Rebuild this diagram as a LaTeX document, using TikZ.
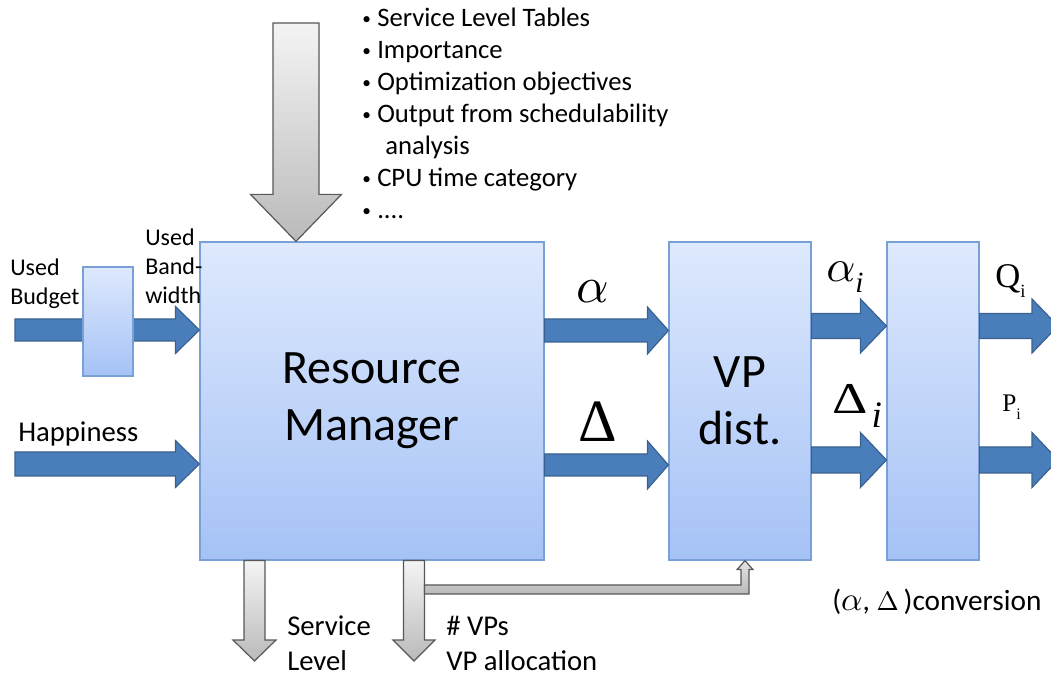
\documentclass[tikz,border=0pt]{standalone}
\usepackage{graphicx}
\usepackage{fontspec}
\setmainfont{Carlito}
\newfontfamily\tnr{Liberation Serif}
\usetikzlibrary{calc}

\definecolor{boxtop}{HTML}{DEE9FD}
\definecolor{boxbot}{HTML}{A5C2F6}
\definecolor{boxline}{HTML}{7AA0D8}
\definecolor{arrowblue}{HTML}{4A7EBB}
\definecolor{arrowline}{HTML}{3A6190}
\definecolor{greytop}{HTML}{F4F4F4}
\definecolor{greybot}{HTML}{BABABA}
\definecolor{greyline}{HTML}{575757}

\tikzset{
  bluebox/.style={draw=boxline, line width=0.9pt, top color=boxtop, bottom color=boxbot, inner sep=0pt},
  bluearrow/.style={fill=arrowblue, draw=arrowline, line width=0.9pt, line join=miter},
  greyarrow/.style={top color=greytop, bottom color=greybot, draw=greyline, line width=0.9pt, line join=miter},
  connarrow/.style={top color=greytop!70!greybot, bottom color=greybot, draw=greyline, line width=0.9pt, line join=miter},
  lbl/.style={inner sep=0pt, anchor=base west},
}

% multi-line label whose baseline is the first line
\newcommand\lines[2]{\begin{tabular}[t]{@{}#1@{}}#2\end{tabular}}
\newcommand\bul{\makebox[11.25pt][l]{\raisebox{1.5pt}{\fontsize{13}{13}\selectfont •}}}
% math Greek letters scaled from a 10pt base
\newcommand\galpha[1]{\scalebox{#1}{\fontsize{10}{10}\selectfont$\alpha$}}
\newcommand\gDelta[1]{\scalebox{#1}{\fontsize{10}{10}\selectfont$\Delta$}}

% horizontal block arrow: start, end, y centre, half shaft, half head, head length
\newcommand\hblock[6]{%
  \pgfmathsetmacro\hbA{#3-#4}\pgfmathsetmacro\hbB{#3+#4}%
  \pgfmathsetmacro\hbC{#3-#5}\pgfmathsetmacro\hbD{#3+#5}%
  \path[bluearrow] (#1 |- 0,\hbA) -- ($(#2 |- 0,\hbA)+(-#6,0)$) -- ($(#2 |- 0,\hbC)+(-#6,0)$)
    -- (#2 |- 0,#3) -- ($(#2 |- 0,\hbD)+(-#6,0)$) -- ($(#2 |- 0,\hbB)+(-#6,0)$)
    -- (#1 |- 0,\hbB) -- cycle;}

% downward block arrow: start, end, x centre, half shaft, half head, head length
\newcommand\vblock[6]{%
  \pgfmathsetmacro\vbA{#3-#4}\pgfmathsetmacro\vbB{#3+#4}%
  \pgfmathsetmacro\vbC{#3-#5}\pgfmathsetmacro\vbD{#3+#5}%
  \path[greyarrow] (#1 -| \vbA,0) -- ($(#2 -| \vbA,0)+(0,-#6)$) -- ($(#2 -| \vbC,0)+(0,-#6)$)
    -- (#2 -| #3,0) -- ($(#2 -| \vbD,0)+(0,-#6)$) -- ($(#2 -| \vbB,0)+(0,-#6)$)
    -- (#1 -| \vbB,0) -- cycle;}

\begin{document}
\begin{tikzpicture}[x=0.75pt, y=-0.75pt]
\useasboundingbox (0,0) rectangle (1051,677);
\clip (0,0) rectangle (1051,677);

% main blocks
\node[bluebox, minimum width=258pt, minimum height=238.5pt, align=center,
      font=\fontsize{36}{42.75}\selectfont] (rm) at (372,401) {Resource\\Manager};
\node[bluebox, minimum width=106.5pt, minimum height=238.5pt, align=center,
      font=\fontsize{36}{42.75}\selectfont] (vp) at (740,401) {VP\\dist.};
\node[bluebox, minimum width=69pt, minimum height=238.5pt] (cv) at (933,401) {};

% free ends of the connectors
\coordinate (inBud) at (15,330);
\coordinate (inHap) at (15,464);
\coordinate (inTop) at (296,23);
\coordinate (outQ) at (1058,326);
\coordinate (outP) at (1058,460);
\coordinate (outSL) at (254.5,661);
\coordinate (outVP) at (414,661);
\coordinate (br) at (424.5,589.5);
\coordinate (vpin) at ($(vp.south)+(5,0)$);

% inputs on the left
\hblock{inBud}{rm.west}{330}{11}{23.5}{24}
\hblock{inHap}{rm.west}{464}{12}{23.5}{24}
\node[bluebox, minimum width=37.5pt, minimum height=81.75pt] (ub) at (108,321.5) {};

% flows between the blocks
\hblock{rm.east}{vp.west}{330.5}{11.5}{23.5}{21}
\hblock{rm.east}{vp.west}{465}{11}{24}{21}
\hblock{vp.east}{cv.west}{326}{12.5}{27}{26}
\hblock{vp.east}{cv.west}{460}{13}{27.5}{26}
\hblock{cv.east}{outQ}{326}{12.5}{27}{26}
\hblock{cv.east}{outP}{460}{13}{27.5}{26}

% grey arrows
\vblock{inTop}{rm.north}{296}{23}{45.5}{47}
\vblock{rm.south}{outSL}{254.5}{10.5}{21.5}{21}
\vblock{rm.south}{outVP}{414}{10.5}{21}{21}
\path[connarrow] ($(br)+(0,-4.5)$) -| ($(vpin)+(-4,9)$) -- ($(vpin)+(-8,9)$) -- (vpin)
  -- ($(vpin)+(8,9)$) -- ($(vpin)+(4,9)$) |- ($(br)+(0,4.5)$) -- cycle;

% labels
\node[lbl, font=\fontsize{18}{21.4}\selectfont] (tBud) at (10,276) {\lines{l}{Used\\Budget}};
\node[lbl, font=\fontsize{18}{21.4}\selectfont] (tBw) at (145,246) {\lines{l}{Used\\Band-\\width}};
\node[lbl, font=\fontsize{21.5}{26}\selectfont] (tHap) at (18,442) {Happiness};
\node[lbl, font=\fontsize{20}{24}\selectfont] (tList) at (362,27) {\lines{l}{%
  \bul Service Level Tables\\
  \bul Importance\\
  \bul Optimization objectives\\
  \bul Output from schedulability\\
  \hspace{17.25pt}analysis\\
  \bul CPU time category\\
  \bul ....}};
\node[lbl, font=\fontsize{21.5}{26.25}\selectfont] (tSL) at (287,635) {\lines{l}{Service\\Level}};
\node[lbl, font=\fontsize{21.5}{26.25}\selectfont] (tVP) at (446,635) {\lines{l}{\# VPs\\VP allocation}};

\node[inner sep=0pt] (tAl) at (592.5,292) {\galpha{3.8}};
\node[inner sep=0pt, font=\tnr\fontsize{45}{45}\selectfont] (tDe) at (597.5,422) {Δ};
\node[lbl] (tAli) at (826,282)
  {\galpha{3.4}\raisebox{-8.25pt}{\tnr\itshape\fontsize{22}{22}\selectfont i}};
\node[lbl, font=\tnr\fontsize{33}{33}\selectfont] (tDei) at (832,414)
  {\scalebox{1.25}[1]{Δ}\hspace{3pt}\raisebox{-10.5pt}{\itshape\fontsize{28}{28}\selectfont i}};
\node[lbl, font=\tnr\fontsize{26}{26}\selectfont] (tQ) at (995,288)
  {Q\raisebox{-7.5pt}{\fontsize{14}{14}\selectfont i}};
\node[lbl, font=\tnr\fontsize{19}{19}\selectfont] (tP) at (1002,412)
  {P\raisebox{-6pt}{\fontsize{12}{12}\selectfont i}};
\node[lbl, font=\fontsize{22}{22}\selectfont] (tCv) at (832,610)
  {(\galpha{2.5}, \gDelta{2}\,)conversion};
\end{tikzpicture}
\end{document}
